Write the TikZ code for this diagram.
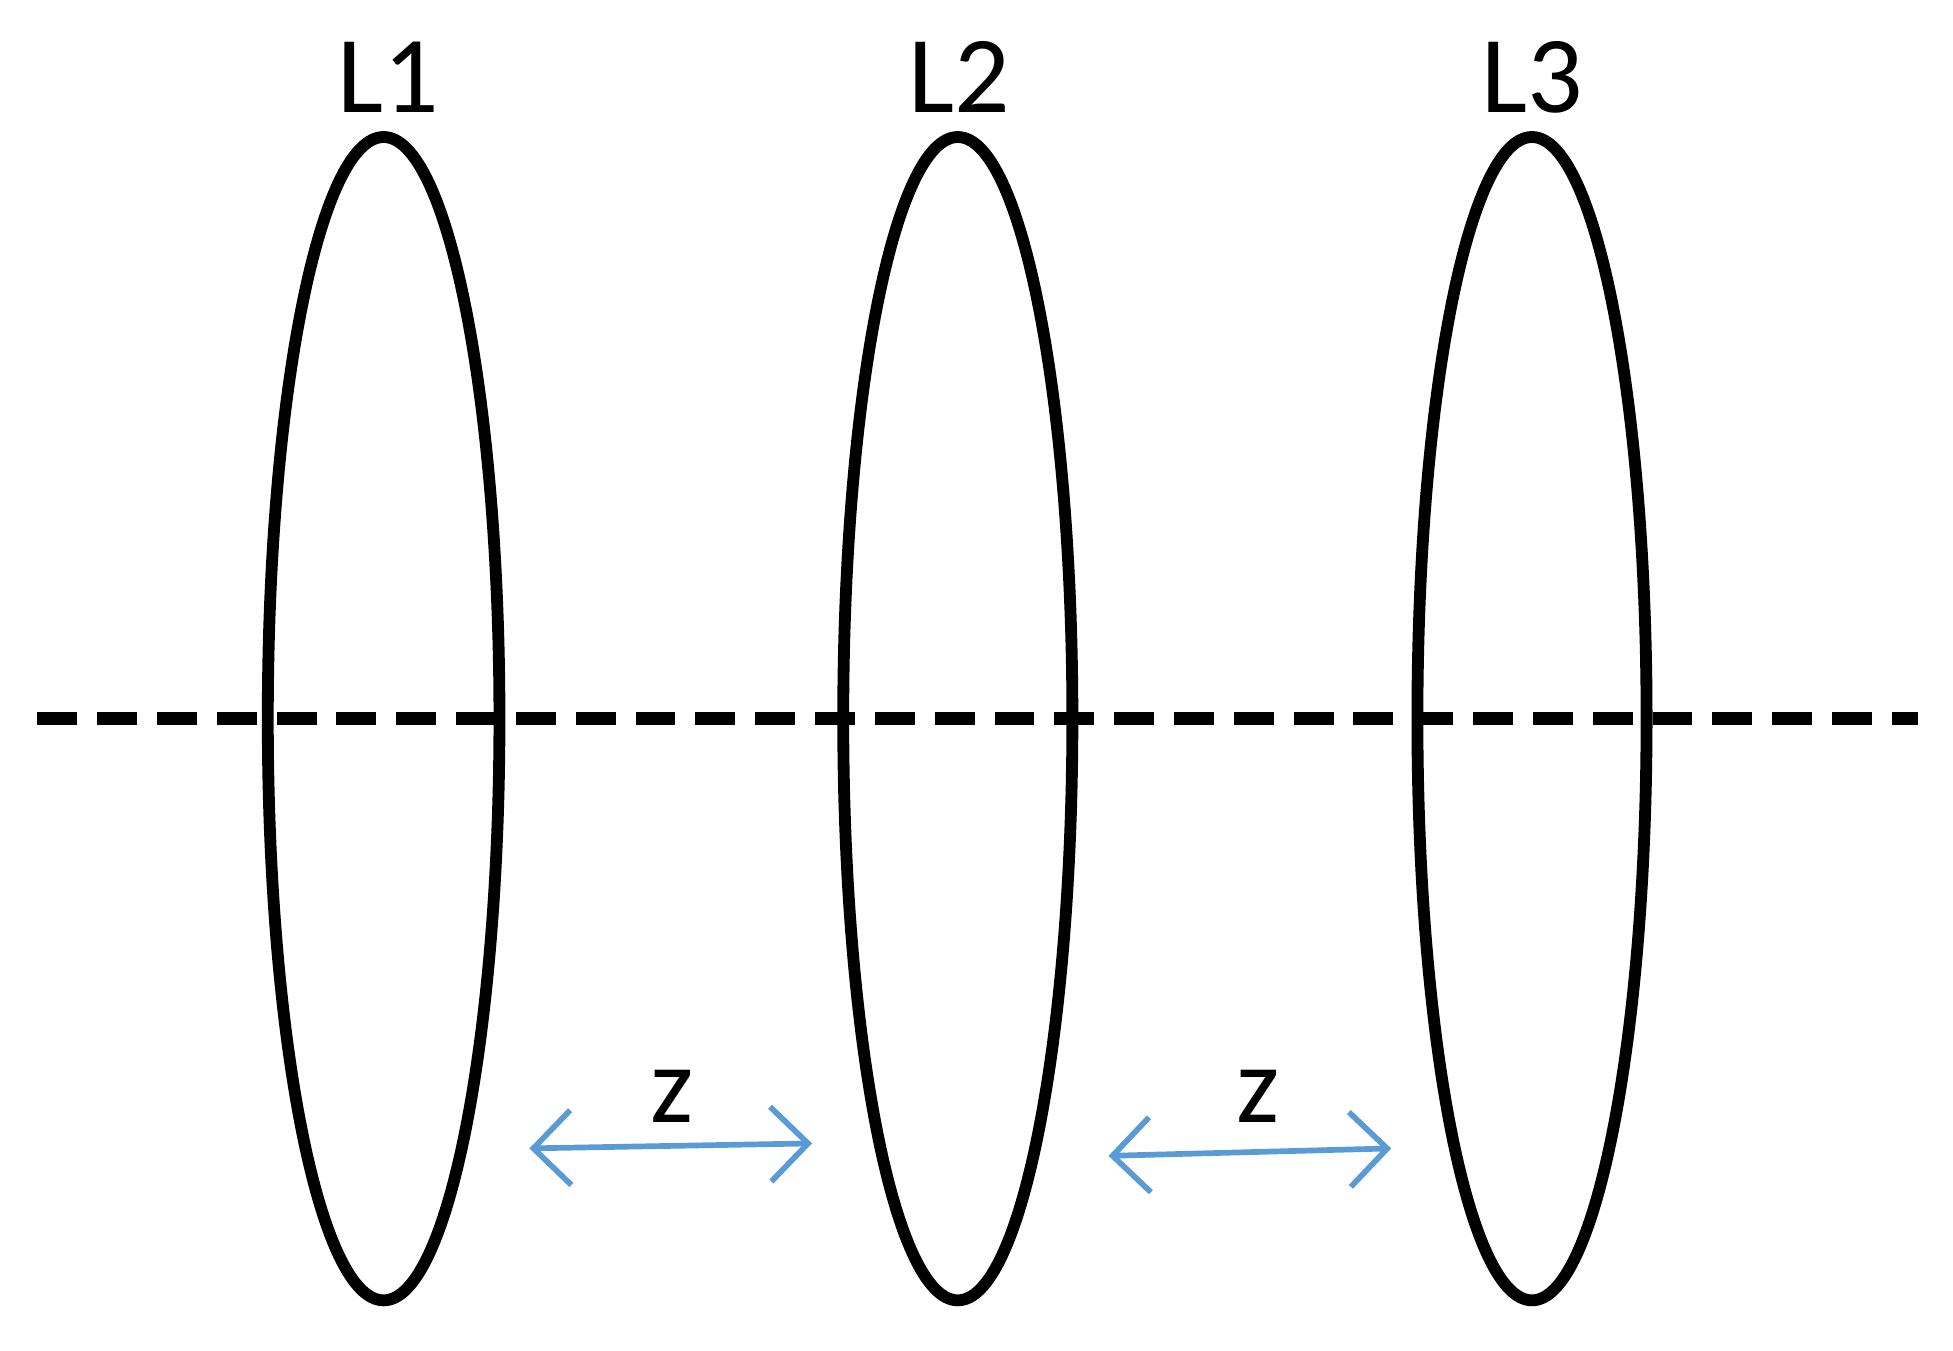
\documentclass[tikz,border=0pt]{standalone}
\usepackage{fontspec}
\setmainfont{Carlito}
\usetikzlibrary{arrows.meta}
\definecolor{zblue}{RGB}{91,155,213}
\begin{document}
\begin{tikzpicture}[x=0.01cm,y=-0.01cm,
  lens/.style={draw=black,line width=2.7pt},
  axis/.style={draw=black,line width=3pt,dash pattern=on 0.32cm off 0.16cm},
  zarrow/.style={draw=zblue,line width=1.3pt,{Straight Barb[length=0.3cm,width=0.6cm]}-{Straight Barb[length=0.3cm,width=0.6cm]}},
  lbl/.style={font=\fontsize{25pt}{30pt}\selectfont,inner sep=0pt}]
\useasboundingbox (0,0) rectangle (1568,1084);
\draw[lens] (308,577) ellipse [x radius=93, y radius=467];
\draw[lens] (769,577) ellipse [x radius=92, y radius=467];
\draw[lens] (1230,577) ellipse [x radius=92, y radius=467];
\coordinate (a0) at (30,577); \coordinate (a1) at (1540,577);
\draw[axis] (a0) -- (a1);
\node[lbl] (l1) at (312,62) {L1};
\node[lbl] (l2) at (770,62) {L2};
\node[lbl] (l3) at (1230,62) {L3};
\coordinate (p1) at (425,922); \coordinate (p2) at (652,918);
\coordinate (p3) at (890,928); \coordinate (p4) at (1117,922);
\draw[zarrow] (p1) -- (p2);
\draw[zarrow] (p3) -- (p4);
\node[lbl] (z1) at (540,880) {z};
\node[lbl] (z2) at (1010,880) {z};
\end{tikzpicture}
\end{document}
